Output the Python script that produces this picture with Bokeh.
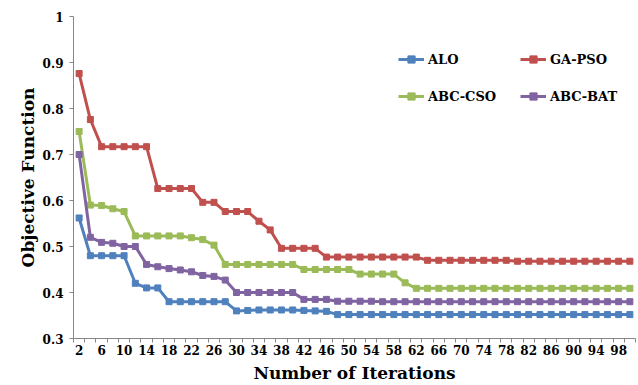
from bokeh.plotting import figure
from bokeh.models import FixedTicker, CustomJSTickFormatter, Legend, LegendItem, Range1d
from bokeh.embed import file_html
from bokeh.resources import INLINE

iterations = list(range(2, 101, 2))

alo = [0.562, 0.48, 0.48, 0.48, 0.48, 0.42, 0.41, 0.41, 0.38, 0.38,
       0.38, 0.38, 0.38, 0.38, 0.36, 0.361, 0.362, 0.362, 0.362, 0.362,
       0.361, 0.36, 0.359] + [0.352] * 27

ga_pso = [0.876, 0.776, 0.717, 0.717, 0.717, 0.717, 0.717, 0.626, 0.626, 0.626,
          0.626, 0.596, 0.596, 0.576, 0.576, 0.576, 0.555, 0.536, 0.496, 0.496,
          0.496, 0.496, 0.477] + [0.477] * 8 + [0.47] * 8 + [0.468] * 11

abc_cso = [0.75, 0.59, 0.589, 0.582, 0.576, 0.523, 0.523, 0.523, 0.523, 0.523,
           0.519, 0.515, 0.503, 0.461] + [0.461] * 6 + [0.45] * 5 + [0.44] * 4 + [0.421] + [0.409] * 20

abc_bat = [0.70, 0.52, 0.509, 0.507, 0.50, 0.50, 0.461, 0.456, 0.452, 0.449,
           0.445, 0.437, 0.435, 0.427, 0.40] + [0.40] * 5 + [0.385] * 3 + [0.381] * 4 + [0.38] * 23

series_names = ["ALO", "GA-PSO", "ABC-CSO", "ABC-BAT"]
series_values = [alo, ga_pso, abc_cso, abc_bat]
colors = ["#4F81BD", "#C0504D", "#9BBB59", "#8064A2"]

x_tick_labels = list(range(2, 99, 4))
y_ticks = [0.3, 0.4, 0.5, 0.6, 0.7, 0.8, 0.9, 1.0]

FONT = "DejaVu Serif"

p = figure(width=638, height=385, output_backend="svg", toolbar_location=None,
           x_range=Range1d(1, 101), y_range=Range1d(0.3, 1.0),
           min_border_left=73, min_border_right=3, min_border_top=16, min_border_bottom=46)
p.outline_line_color = None
p.xgrid.visible = False
p.ygrid.visible = False
p.background_fill_color = "white"
p.border_fill_color = "white"

renderers = {}
for name, vals, col in zip(series_names, series_values, colors):
    l = p.line(iterations, vals, line_color=col, line_width=3)
    s = p.scatter(iterations, vals, marker="square", size=6, fill_color=col, line_color=col)
    renderers[name] = [l, s]

# axes
p.xaxis.ticker = FixedTicker(ticks=x_tick_labels, minor_ticks=list(range(1, 102, 2)))
p.xaxis.major_tick_in = 0
p.xaxis.major_tick_out = 0
p.xaxis.minor_tick_in = 0
p.xaxis.minor_tick_out = 4
p.xaxis.major_label_standoff = 2
p.xaxis.axis_label = "Number of Iterations"

p.yaxis.ticker = FixedTicker(ticks=y_ticks)
p.yaxis.formatter = CustomJSTickFormatter(code="return tick > 0.999 ? '1' : tick.toFixed(1);")
p.yaxis.major_tick_in = 0
p.yaxis.major_tick_out = 4
p.yaxis.minor_tick_out = 0
p.yaxis.minor_tick_in = 0
p.yaxis.major_label_standoff = 6
p.yaxis.axis_label = "Objective Function"

for ax in (p.xaxis[0], p.yaxis[0]):
    ax.axis_line_color = "#868686"
    ax.major_tick_line_color = "#868686"
    ax.minor_tick_line_color = "#868686"
    ax.major_label_text_font = FONT
    ax.major_label_text_font_style = "bold"
    ax.major_label_text_font_size = "12px"
    ax.major_label_text_color = "black"
    ax.axis_label_text_font = FONT
    ax.axis_label_text_font_style = "bold"
    ax.axis_label_text_font_size = "17px"
    ax.axis_label_text_color = "black"
p.xaxis.axis_label_standoff = 5
p.yaxis.axis_label_standoff = 2

legend_order = ["ALO", "ABC-CSO", "GA-PSO", "ABC-BAT"]
legend = Legend(items=[LegendItem(label=n, renderers=renderers[n]) for n in legend_order],
                ncols=2, location=(325, 233), orientation="vertical")
legend.border_line_color = None
legend.background_fill_alpha = 0
legend.padding = 0
legend.margin = 0
legend.spacing = 19
legend.glyph_width = 26
legend.glyph_height = 18
legend.label_height = 18
legend.label_width = 73
legend.label_standoff = 4
legend.label_text_font = FONT
legend.label_text_font_style = "bold"
legend.label_text_font_size = "13px"
legend.label_text_color = "black"
p.add_layout(legend)

open("out.html", "w").write(file_html(p, INLINE))
